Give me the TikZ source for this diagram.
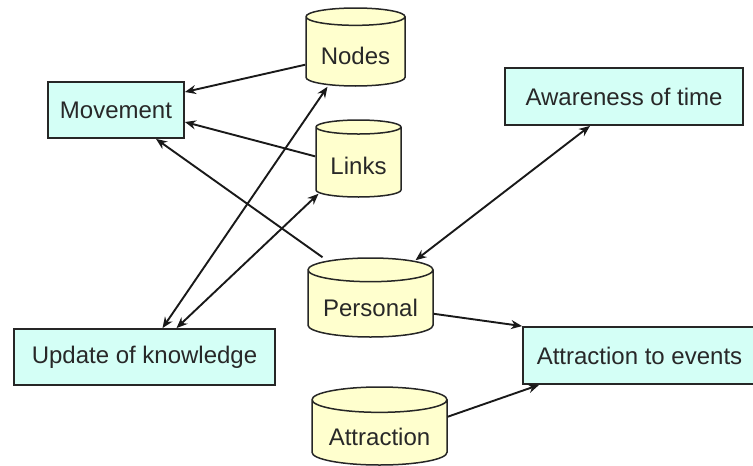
\documentclass[tikz,border=0pt]{standalone}
\usepackage{fontspec}
\setmainfont{Liberation Sans}
\usetikzlibrary{shapes.geometric,arrows.meta}

\definecolor{boxfill}{RGB}{212,255,246}
\definecolor{dbfill}{RGB}{255,255,206}
\definecolor{inkgray}{RGB}{40,40,40}

\begin{document}
\begin{tikzpicture}
[every node/.style={inner sep=0pt, font=\fontsize{24}{28}\selectfont, text=inkgray},
 taskbox/.style={rectangle, fill=boxfill, line width=1.8pt, draw=black!85},
 store/.style={cylinder, shape border rotate=90, aspect=0.25, anchor=shape center, text height=30pt, text depth=5pt, fill=dbfill, line width=1.5pt, draw=black!85},
 link/.style={line width=1.9pt, -{Stealth[length=11pt,width=9pt]}, color=black!90},
 twoway/.style={line width=1.9pt, {Stealth[length=11pt,width=9pt]}-{Stealth[length=11pt,width=9pt]}, color=black!90}]
\useasboundingbox (0pt, 0pt) rectangle (753pt, -466pt);
\node (movement) [taskbox, minimum width=136pt, minimum height=56pt] at (116.0pt, -110.0pt) {Movement};
\node (update) [taskbox, minimum width=261pt, minimum height=56pt] at (144.5pt, -357.0pt) {Update of knowledge};
\node (awareness) [taskbox, minimum width=238pt, minimum height=57pt] at (624.0pt, -96.5pt) {Awareness of time};
\node (events) [taskbox, minimum width=233pt, minimum height=57pt] at (639.5pt, -355.5pt) {Attraction to events};
\node (nodes) [store, minimum width=99pt, minimum height=78pt] at (355.5pt, -47.0pt) {Nodes};
\node (links) [store, minimum width=85pt, minimum height=77pt] at (358.5pt, -158.5pt) {Links};
\node (personal) [store, minimum width=125pt, minimum height=79pt] at (370.5pt, -297.5pt) {Personal};
\node (attraction) [store, minimum width=135pt, minimum height=78pt] at (379.5pt, -426.0pt) {Attraction};
\draw [link] ([yshift=-13pt]nodes.west) to ([yshift=18pt]movement.east);
\draw [link] ([yshift=6pt]links.west) to ([yshift=-12pt]movement.east);
\draw [link] ([xshift=-48pt]personal.north) to ([xshift=40pt]movement.south);
\draw [twoway] ([xshift=18pt]update.north) to ([xshift=-28pt]nodes.south);
\draw [twoway] ([xshift=32pt]update.north) to ([xshift=-40pt,yshift=4pt]links.south);
\draw [twoway] ([xshift=45pt,yshift=-3pt]personal.north) to ([xshift=-34pt]awareness.south);
\draw [link] ([yshift=-10pt]personal.east) to (events.north west);
\draw [link] ([yshift=16pt]attraction.east) to ([xshift=17pt]events.south west);
\end{tikzpicture}
\end{document}
